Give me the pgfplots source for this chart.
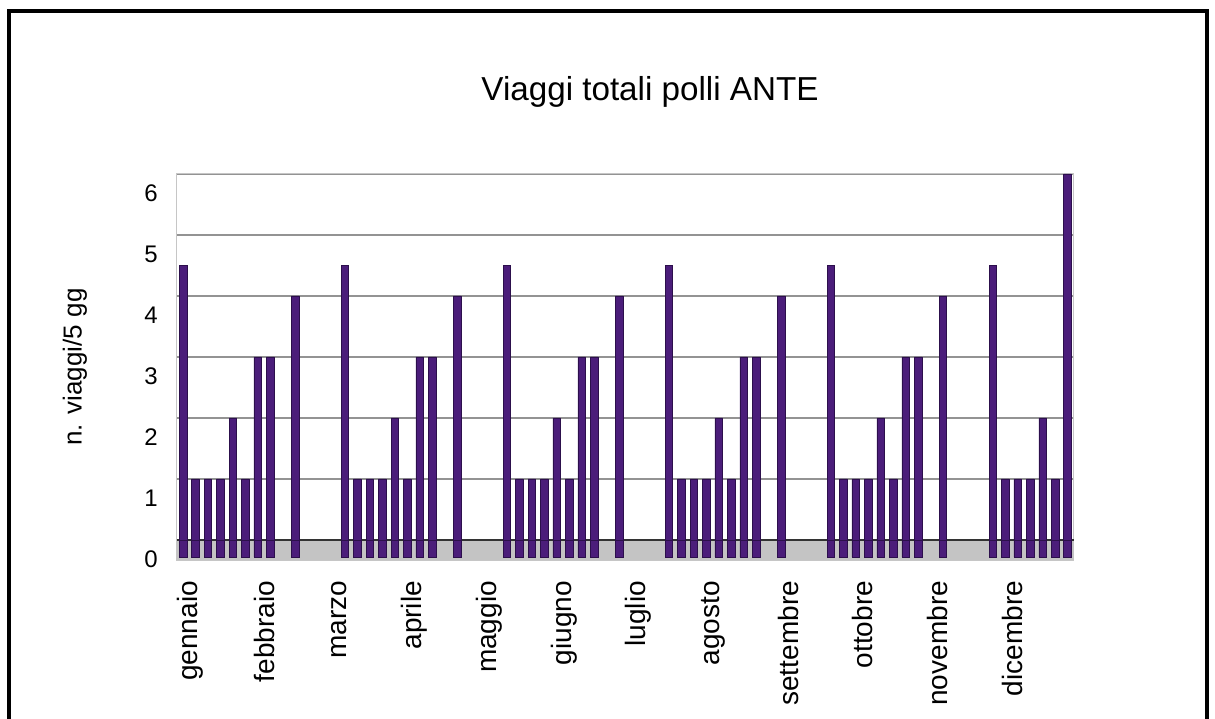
\documentclass[border=0pt]{standalone}
\usepackage{pgfplots}
\pgfplotsset{compat=1.18}
\usepackage{pgfplotstable}
\usepackage{fontspec}
\setmainfont{Liberation Sans}
\definecolor{barc}{HTML}{4B1D7A}
\definecolor{bardk}{HTML}{2C0F4C}
\definecolor{floorc}{HTML}{C4C4C4}
\pgfplotstableread{
x y lo
0 4.5 -0.28
1 1 -0.28
2 1 -0.28
3 1 -0.28
4 2 -0.28
5 1 -0.28
6 3 -0.28
7 3 -0.28
9 4 -0.28
13 4.5 -0.28
14 1 -0.28
15 1 -0.28
16 1 -0.28
17 2 -0.28
18 1 -0.28
19 3 -0.28
20 3 -0.28
22 4 -0.28
26 4.5 -0.28
27 1 -0.28
28 1 -0.28
29 1 -0.28
30 2 -0.28
31 1 -0.28
32 3 -0.28
33 3 -0.28
35 4 -0.28
39 4.5 -0.28
40 1 -0.28
41 1 -0.28
42 1 -0.28
43 2 -0.28
44 1 -0.28
45 3 -0.28
46 3 -0.28
48 4 -0.28
52 4.5 -0.28
53 1 -0.28
54 1 -0.28
55 1 -0.28
56 2 -0.28
57 1 -0.28
58 3 -0.28
59 3 -0.28
61 4 -0.28
65 4.5 -0.28
66 1 -0.28
67 1 -0.28
68 1 -0.28
69 2 -0.28
70 1 -0.28
71 6 -0.28
}\data
\begin{document}
\begin{tikzpicture}
\useasboundingbox (0,0) rectangle (607.5pt,359pt);
\draw[line width=2pt] (4.5pt,-10pt) rectangle (603.5pt,353.5pt);
\node[font=\fontsize{16.6}{19}\selectfont] at (325pt,313pt) {Viaggi totali polli ANTE};
\begin{axis}[
  at={(88.4pt,79pt)}, anchor=south west,
  scale only axis, width=448.5pt, height=193pt,
  xmin=-0.5, xmax=71.5, ymin=-0.328, ymax=6,
  ytick={0,1,2,3,4,5,6},
  xtick={0,6,12,18,24,30,36,42,48,54,60,66},
  xticklabels={gennaio,febbraio,marzo,aprile,maggio,giugno,luglio,agosto,settembre,ottobre,novembre,dicembre},
  major tick length=0pt,
  ymajorgrids, grid style={draw=gray!85, line width=0.6pt},
  axis line style={draw=gray!45, line width=0.5pt},
  /pgf/number format/assume math mode=true,
  yticklabel style={font=\fontsize{12}{14}\selectfont, xshift=-6pt, yshift=-9.5pt},
  xticklabel style={font=\fontsize{14}{16}\selectfont, rotate=90, anchor=east, yshift=-3.5pt, xshift=-7pt},
  ylabel={n. viaggi/5 gg},
  every axis y label/.style={at={(axis description cs:-0.1135,0.5)}, rotate=90, anchor=center, font=\fontsize{13}{15}\selectfont},
  clip=false,
]
\fill[floorc] (axis cs:-0.5,-0.328) rectangle (axis cs:71.5,0);
\draw[black!80, line width=0.7pt] (axis cs:-0.5,0) -- (axis cs:71.5,0);
\addplot[ybar, bar width=3.8pt, bar shift=0pt, fill=barc, draw=bardk, line width=0.3pt] table[x=x, y=lo] {\data};
\addplot[ybar, bar width=3.8pt, bar shift=0pt, fill=barc, draw=bardk, line width=0.3pt] table[x=x, y=y] {\data};
\end{axis}
\end{tikzpicture}
\end{document}
